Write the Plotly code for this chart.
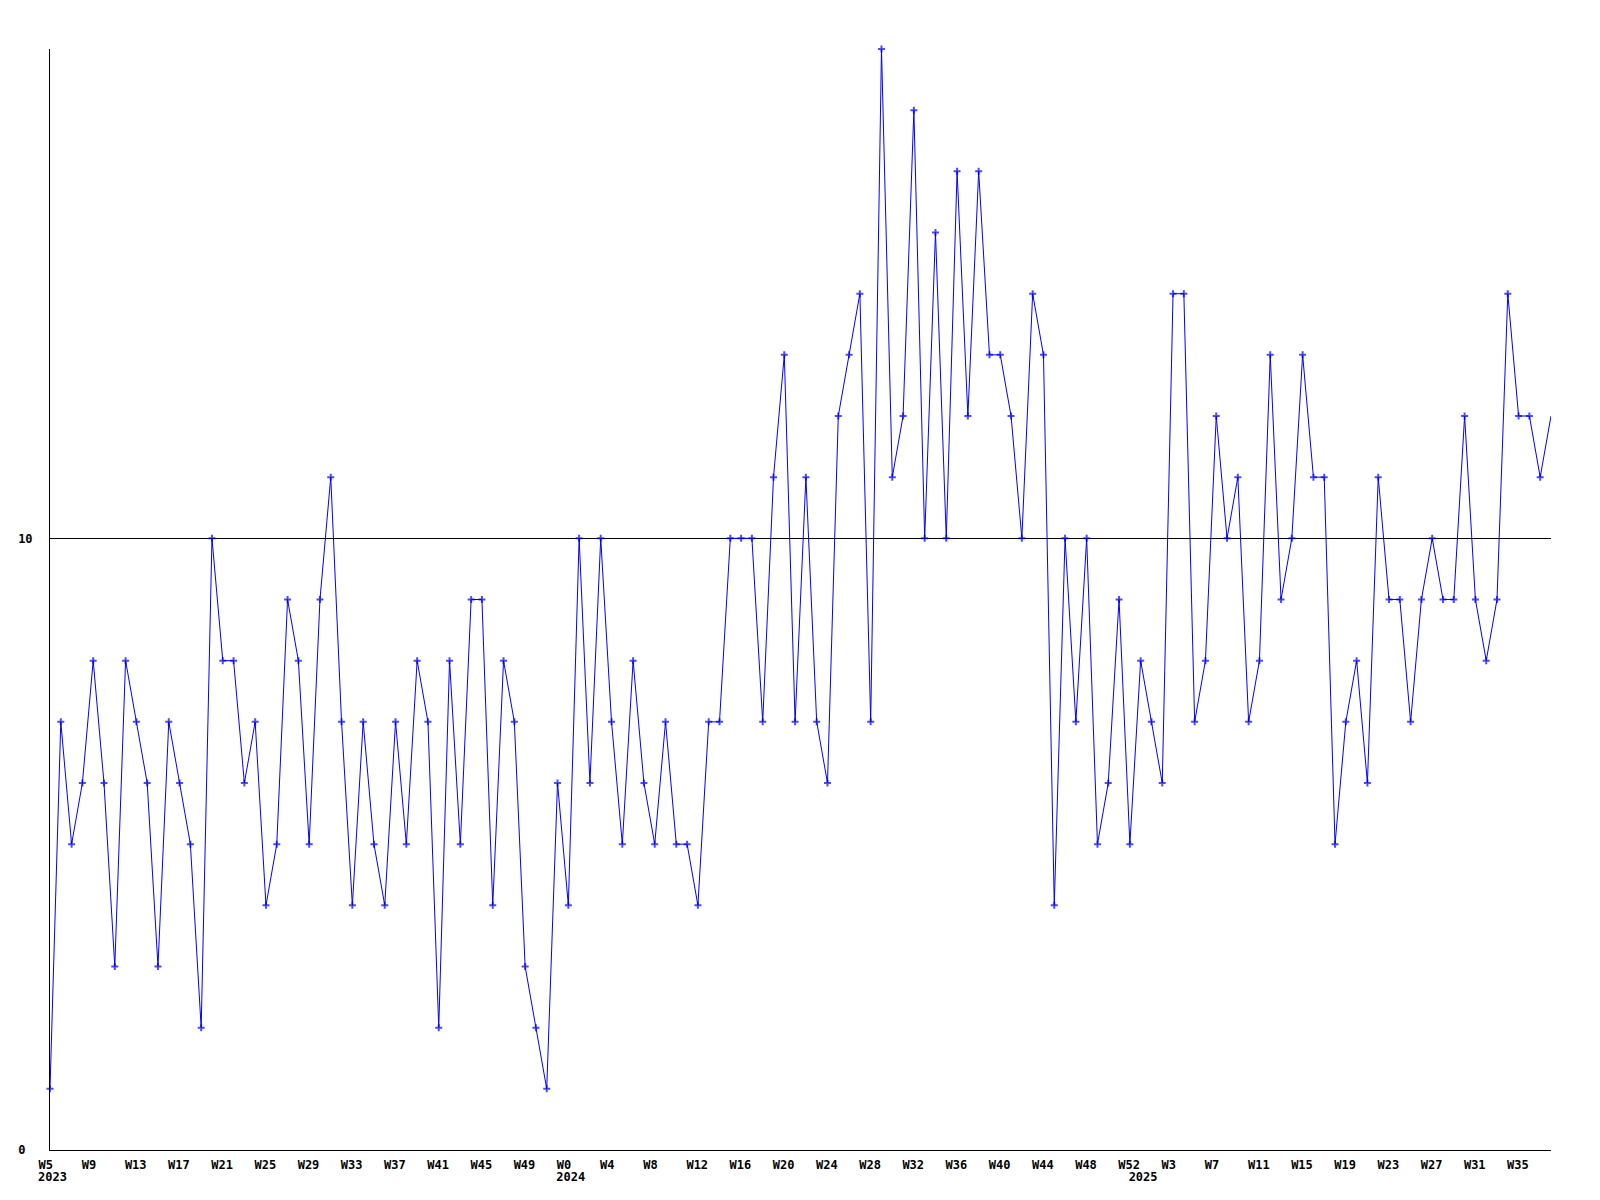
import plotly.graph_objects as go

# ---- data ----
years = [2023] * 48 + [2024] * 53 + [2025] * 39
weeks = list(range(5, 53)) + list(range(0, 53)) + list(range(0, 39))
values = [
    # 2023 W5..W52
    1, 7, 5, 6, 8, 6, 3, 8, 7, 6,
    3, 7, 6, 5, 2, 10, 8, 8, 6, 7,
    4, 5, 9, 8, 5, 9, 11, 7, 4, 7,
    5, 4, 7, 5, 8, 7, 2, 8, 5, 9,
    9, 4, 8, 7, 3, 2, 1, 6,
    # 2024 W0..W52
    4, 10, 6, 10, 7, 5, 8, 6, 5, 7,
    5, 5, 4, 7, 7, 10, 10, 10, 7, 11,
    13, 7, 11, 7, 6, 12, 13, 14, 7, 18,
    11, 12, 17, 10, 15, 10, 16, 12, 16, 13,
    13, 12, 10, 14, 13, 4, 10, 7, 10, 5,
    6, 9, 5,
    # 2025 W0..W38
    8, 7, 6, 14, 14, 7, 8, 12, 10, 11,
    7, 8, 13, 9, 10, 13, 11, 11, 5, 7,
    8, 6, 11, 9, 9, 7, 9, 10, 9, 9,
    12, 9, 8, 9, 14, 12, 12, 11, 12,
]
y_ticks = [0, 10]
y_tick_text = ["0\u00a0", "10"]

n = len(values)
xs = list(range(n))
week_tick_idx = list(range(0, n, 4))
week_tick_txt = [f"W{weeks[i]}" for i in week_tick_idx]
year_tick_idx = [i for i in range(n) if i == 0 or years[i] != years[i - 1]]
year_tick_txt = [str(years[i]) for i in year_tick_idx]

marker_sizes = [5] * (n - 1) + [0]

font = dict(family="DejaVu Sans Mono", size=12, color="black", weight="bold")

fig = go.Figure()
fig.add_trace(go.Scatter(
    x=xs, y=values, mode="lines+markers",
    line=dict(color="#0000ff", width=1),
    marker=dict(symbol="cross-thin", size=marker_sizes, color="#0000ff",
                line=dict(color="#0000ff", width=2)),
    cliponaxis=False, showlegend=False, hoverinfo="skip",
))

fig.update_layout(
    width=1592, height=1192,
    paper_bgcolor="white", plot_bgcolor="white",
    margin=dict(l=42, r=49, t=41, b=50, pad=0, autoexpand=False),
    font=font,
    xaxis=dict(
        range=[0, n - 1], tickmode="array", tickvals=week_tick_idx, ticktext=week_tick_txt,
        showgrid=False, zeroline=False, showline=True, linecolor="black", linewidth=1,
        ticks="", ticklabelposition="outside right", ticklabelshift=-12,
        ticklabelstandoff=4, tickfont=font, automargin=False,
    ),
    xaxis2=dict(
        range=[0, n - 1], overlaying="x", side="bottom", anchor="y",
        tickmode="array", tickvals=year_tick_idx, ticktext=year_tick_txt,
        showgrid=False, zeroline=False, showline=False, ticks="",
        ticklabelposition="outside right", ticklabelshift=-12,
        ticklabelstandoff=18, tickfont=font, automargin=False,
    ),
    yaxis=dict(
        range=[0, 18], tickmode="array", tickvals=y_ticks, ticktext=y_tick_text,
        showgrid=True, gridcolor="black", gridwidth=1, zeroline=False,
        showline=True, linecolor="black", linewidth=1,
        ticks="", ticklabelstandoff=14, tickfont=font, automargin=False,
    ),
)
# invisible trace so that the year axis is drawn
fig.add_trace(go.Scatter(x=[0], y=[0], xaxis="x2", mode="markers",
                         marker=dict(size=0, opacity=0), showlegend=False, hoverinfo="skip"))

fig.write_html("out.html")
